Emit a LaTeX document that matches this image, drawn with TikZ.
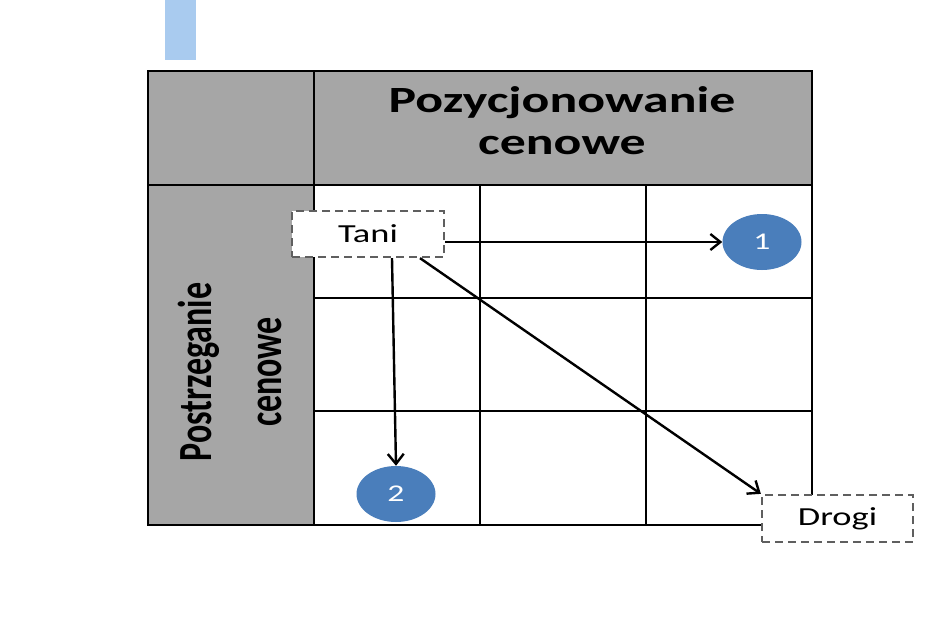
\documentclass[tikz,border=0pt]{standalone}
\usepackage{fontspec}
\setmainfont{Carlito}
\usepackage{graphicx}
\usetikzlibrary{shapes.geometric,arrows.meta,calc}
\definecolor{hdrgray}{HTML}{A6A6A6}
\definecolor{barblue}{HTML}{A9CBEF}
\definecolor{dotblue}{HTML}{4A7EBB}
\definecolor{dashgray}{HTML}{5F5F5F}
\newcommand{\hstretch}[1]{\scalebox{1.4}[1]{#1}}
\begin{document}
\begin{tikzpicture}[x=1pt,y=-1pt,
  gridline/.style={line width=2.6pt,black},
  dashbox/.style={draw=dashgray,dash pattern=on 8pt off 5pt,line width=2.3pt,fill=white,inner sep=0pt,font=\fontsize{26}{30}\selectfont},
  numdot/.style={ellipse,fill=dotblue,text=white,minimum width=79pt,minimum height=56pt,inner sep=0pt,font=\fontsize{24}{28}\selectfont},
  arr/.style={line width=2.4pt,-{Straight Barb[length=10pt,width=16pt]}},
  headtext/.style={font=\fontsize{37}{42}\bfseries\selectfont,inner sep=0pt},
  sidetext/.style={font=\fontsize{34}{50}\bfseries\selectfont,inner sep=0pt}
]
\useasboundingbox (0,0) rectangle (940,626);
\fill[white] (0,0) rectangle (940,626);
\fill[barblue] (165,0) rectangle (196,60);
\fill[hdrgray] (148,71) rectangle (812,185);
\fill[hdrgray] (148,185) rectangle (314,525);
\draw[gridline] (148,71) rectangle (812,525);
\draw[gridline] (314,71) -- (314,525) (480,185) -- (480,525) (646,185) -- (646,525)
  (148,185) -- (812,185) (314,298) -- (812,298) (314,411) -- (812,411);
\node[headtext] (hdr) at (562,125) {\hstretch{\begin{tabular}{c}Pozycjonowanie\\cenowe\end{tabular}}};
\node[sidetext] (side) at (232,372) {\hstretch{\rotatebox{90}{\begin{tabular}{c}Postrzeganie\\cenowe\end{tabular}}}};
\node[dashbox,minimum width=152pt,minimum height=46pt] (tani) at (368,234) {\hstretch{Tani}};
\node[dashbox,minimum width=151pt,minimum height=47pt] (drogi) at (837.5,518.5) {\hstretch{Drogi}};
\node[numdot] (c1) at (762,242) {\hstretch{1}};
\node[numdot] (c2) at (396,494) {\hstretch{2}};
\draw[arr] (c1.west -| tani.east) -- (c1.west);
\draw[arr] ([xshift=24pt]tani.south) -- (c2.north);
\draw[arr] ([xshift=52pt]tani.south) -- (drogi.north west);
\end{tikzpicture}
\end{document}
